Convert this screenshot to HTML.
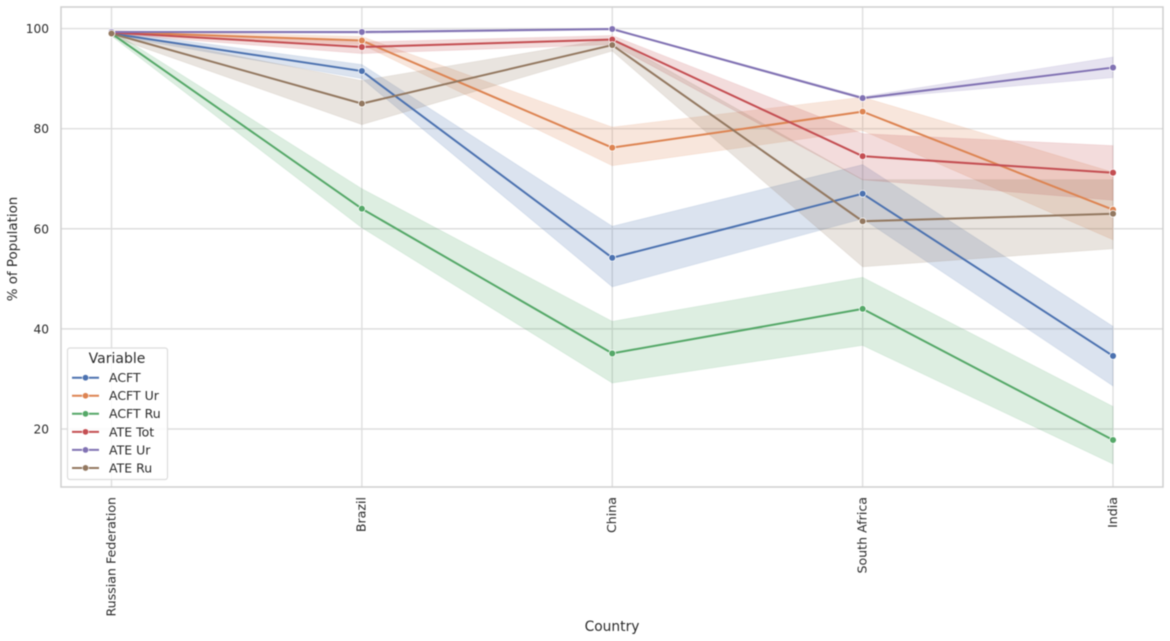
<!DOCTYPE html>
<html lang="en">
<head>
<meta charset="utf-8">
<title>% of Population by Country</title>
<style>
html,body{margin:0;padding:0;background:#fff;width:1170px;height:641px;overflow:hidden}
svg{display:block;filter:blur(0.5px)}
text{font-family:"DejaVu Sans","Liberation Sans",sans-serif;fill:#2b2b2b}
</style>
</head>
<body>
<svg id="chart" width="1170" height="641" viewBox="0 0 1170 641" xmlns="http://www.w3.org/2000/svg"></svg>
<script>
const categories = ["Russian Federation", "Brazil", "China", "South Africa", "India"];
const yTickLabels = [20, 40, 60, 80, 100];
const seriesNames = ["ACFT", "ACFT Ur", "ACFT Ru", "ATE Tot", "ATE Ur", "ATE Ru"];
const seriesColors = ["#4c72b0", "#dd8452", "#55a868", "#c44e52", "#8172b3", "#937860"];

const acft = [99.0, 91.5, 54.2, 67.0, 34.6];
const acftLow = [98.6, 90.0, 48.4, 62.0, 28.6];
const acftHigh = [99.5, 92.8, 60.5, 72.8, 40.5];

const acftUr = [99.3, 97.6, 76.2, 83.4, 63.8];
const acftUrLow = [99.0, 96.8, 72.6, 79.6, 57.8];
const acftUrHigh = [99.6, 98.4, 80.3, 86.3, 71.3];

const acftRu = [99.0, 64.0, 35.1, 44.0, 17.8];
const acftRuLow = [98.5, 60.2, 29.2, 36.7, 13.0];
const acftRuHigh = [99.6, 68.0, 41.5, 50.3, 24.5];

const ateTot = [99.2, 96.3, 97.8, 74.5, 71.2];
const ateTotLow = [98.9, 95.0, 96.8, 69.8, 65.7];
const ateTotHigh = [99.5, 97.3, 98.6, 79.0, 76.6];

const ateUr = [99.3, 99.3, 99.9, 86.1, 92.2];
const ateUrLow = [99.1, 99.0, 99.7, 85.9, 90.2];
const ateUrHigh = [99.5, 99.5, 100.0, 86.4, 94.3];

const ateRu = [99.0, 85.0, 96.7, 61.5, 63.0];
const ateRuLow = [98.4, 80.8, 95.5, 52.4, 56.0];
const ateRuHigh = [99.5, 89.6, 98.0, 69.8, 69.8];

const seriesValues = [acft, acftUr, acftRu, ateTot, ateUr, ateRu];
const seriesLows = [acftLow, acftUrLow, acftRuLow, ateTotLow, ateUrLow, ateRuLow];
const seriesHighs = [acftHigh, acftUrHigh, acftRuHigh, ateTotHigh, ateUrHigh, ateRuHigh];

const svg = document.getElementById('chart');
const NS = 'http://www.w3.org/2000/svg';
const plot = {left: 61, right: 1163, top: 7, bottom: 487};

function xScale(i) { return 111.5 + i * (1113 - 111.5) / (categories.length - 1); }
function yScale(v) { return 429 - (v - 20) * 5.006; }

function make(tag, attrs, parent) {
  const el = document.createElementNS(NS, tag);
  for (const k in attrs) el.setAttribute(k, attrs[k]);
  (parent || svg).appendChild(el);
  return el;
}

/* plot background */
const plotBg = make('rect', {x: plot.left, y: plot.top, width: plot.right - plot.left, height: plot.bottom - plot.top, fill: '#fff'});



/* grid and y ticks */
yTickLabels.forEach(function (t) {
  const g = make('line', {x1: plot.left, x2: plot.right, y1: yScale(t), y2: yScale(t), stroke: '#dedede', 'stroke-width': 1.4});
  
  
  const lab = make('text', {x: 49, y: yScale(t) + 4.5, 'text-anchor': 'end', 'font-size': 12.2});
  lab.textContent = t;
  
  
});

/* vertical grid and x ticks */
categories.forEach(function (c, i) {
  const slug = c.toLowerCase().replace(/\s+/g, '-');
  const g = make('line', {x1: xScale(i), x2: xScale(i), y1: plot.top, y2: plot.bottom, stroke: '#dedede', 'stroke-width': 1.4});
  
  
  const lx = xScale(i) + 3.8;
  const lab = make('text', {x: lx, y: 497, 'text-anchor': 'end', 'font-size': 12.6, transform: 'rotate(-90 ' + lx + ' 497)'});
  lab.textContent = c;
  
  
});

/* spines */
const frame = make('rect', {x: plot.left, y: plot.top, width: plot.right - plot.left, height: plot.bottom - plot.top, fill: 'none', stroke: '#cfcfcf', 'stroke-width': 1.5});



/* series */
seriesNames.forEach(function (name, s) {
  const slug = name.toLowerCase().replace(/\s+/g, '-');
  const color = seriesColors[s];
  const upper = seriesHighs[s].map(function (v, i) { return xScale(i) + ',' + yScale(v); });
  const lower = seriesLows[s].map(function (v, i) { return xScale(i) + ',' + yScale(v); }).reverse();
  const band = make('polygon', {points: upper.concat(lower).join(' '), fill: color, 'fill-opacity': 0.2, stroke: color, 'stroke-opacity': 0.12, 'stroke-width': 0.8});
  
  
});
seriesNames.forEach(function (name, s) {
  const slug = name.toLowerCase().replace(/\s+/g, '-');
  const color = seriesColors[s];
  const pts = seriesValues[s].map(function (v, i) { return xScale(i) + ',' + yScale(v); }).join(' ');
  const line = make('polyline', {points: pts, fill: 'none', stroke: color, 'stroke-width': 2, 'stroke-linejoin': 'round'});
  
  
  seriesValues[s].forEach(function (v, i) {
    const pt = make('circle', {cx: xScale(i), cy: yScale(v), r: 3.4, fill: color, stroke: '#fff', 'stroke-width': 0.7});
    
    
  });
});

/* axis titles */
const xTitle = make('text', {x: 612, y: 631, 'text-anchor': 'middle', 'font-size': 13.8});
xTitle.textContent = 'Country';



const yTitle = make('text', {x: 17, y: 249, 'text-anchor': 'middle', 'font-size': 13.4, transform: 'rotate(-90 17 249)'});
yTitle.textContent = '% of Population';



/* legend */
const legend = make('g', {});


const legendBox = make('rect', {x: 67.5, y: 348, width: 100, height: 131.5, rx: 2.5, fill: '#fff', 'fill-opacity': 0.85, stroke: '#dcdcdc', 'stroke-width': 1.2}, legend);


const legendTitle = make('text', {x: 117, y: 363, 'text-anchor': 'middle', 'font-size': 14}, legend);
legendTitle.textContent = 'Variable';


seriesNames.forEach(function (name, s) {
  const slug = name.toLowerCase().replace(/\s+/g, '-');
  const row = 377.7 + s * 18.05;
  const entry = make('g', {}, legend);
  
  
  make('line', {x1: 72, x2: 99, y1: row, y2: row, stroke: seriesColors[s], 'stroke-width': 2}, entry);
  make('circle', {cx: 85.5, cy: row, r: 3.2, fill: seriesColors[s], stroke: '#fff', 'stroke-width': 0.6}, entry);
  const t = make('text', {x: 109, y: row + 4.4, 'font-size': 12.5}, entry);
  t.textContent = name;
});
</script>
</body>
</html>
